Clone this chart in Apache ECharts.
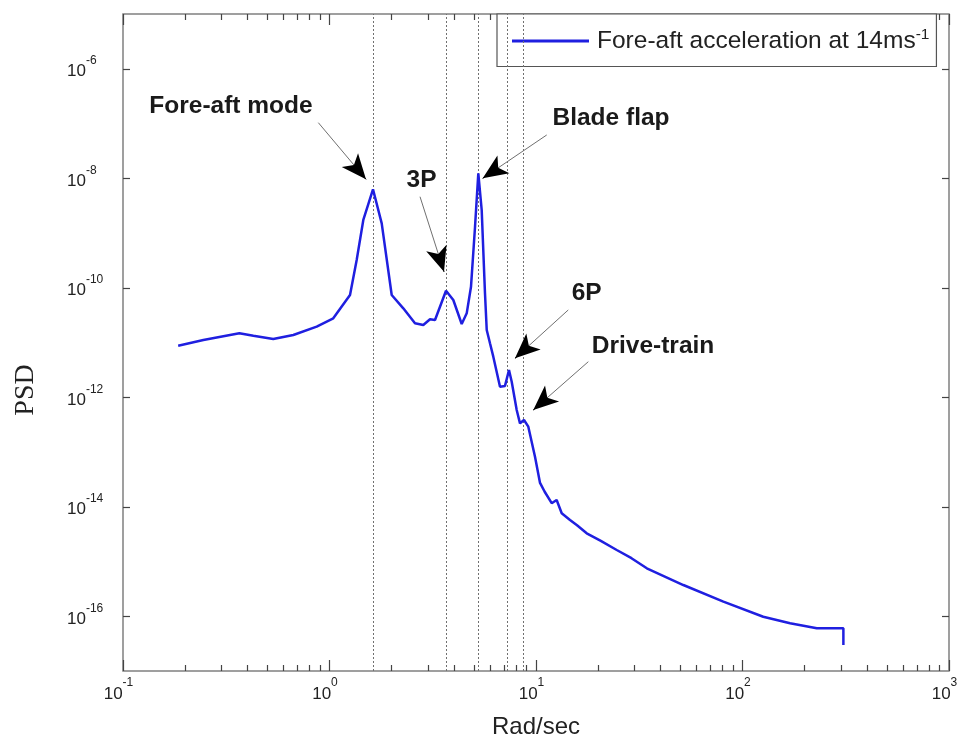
<!DOCTYPE html>
<html><head><meta charset="utf-8">
<script src="https://cdn.jsdelivr.net/npm/echarts@6/dist/echarts.min.js"></script>
<style>html,body{margin:0;padding:0;background:#fff}#c{width:970px;height:747px}</style>
</head><body><div id="c"></div>
<script>
// ---- data ----
const freq = [0.185, 0.245, 0.366, 0.428, 0.534, 0.668, 0.867, 1.043, 1.257, 1.354, 1.458, 1.624, 1.790, 2.001, 2.277, 2.594, 2.846, 3.067, 3.243, 3.666, 3.977, 4.367, 4.618, 4.844, 5.067, 5.256, 5.458, 5.662, 5.773, 5.987, 6.212, 6.694, 7.077, 7.40, 7.627, 8.063, 8.366, 8.747, 9.178, 9.89, 10.46, 11.0, 11.91, 12.59, 13.32, 14.61, 15.8, 17.60, 20.5, 24.6, 29.0, 34.4, 51.7, 80.8, 126, 170, 229, 308, 308];
const psd = [8.75e-12, 1.11e-11, 1.47e-11, 1.33e-11, 1.16e-11, 1.37e-11, 1.95e-11, 2.77e-11, 7.38e-11, 3.21e-10, 1.73e-9, 6.28e-9, 1.50e-9, 7.38e-11, 4.21e-11, 2.24e-11, 2.09e-11, 2.65e-11, 2.58e-11, 8.83e-11, 5.97e-11, 2.18e-11, 3.41e-11, 1.04e-10, 1.30e-9, 1.23e-8, 2.63e-9, 7.92e-11, 1.69e-11, 9.66e-12, 5.51e-12, 1.56e-12, 1.61e-12, 3.15e-12, 1.92e-12, 5.85e-13, 3.34e-13, 3.84e-13, 2.90e-13, 8.2e-14, 2.72e-14, 1.9e-14, 1.16e-14, 1.33e-14, 7.59e-15, 5.73e-15, 4.6e-15, 3.27e-15, 2.4e-15, 1.62e-15, 1.15e-15, 7.52e-16, 3.72e-16, 1.85e-16, 9.8e-17, 7.43e-17, 6.03e-17, 6.03e-17, 2.99e-17];
const seriesName = 'Fore-aft acceleration at 14ms-1';
const modeFreqs = [1.62, 3.66, 5.24, 7.24, 8.65];
const annotationLabels = ['Fore-aft mode', '3P', 'Blade flap', '6P', 'Drive-train'];
const labelAnchors = [[0.3334, 2.09e-7], [2.79, 9.29e-9], [23.08, 1.26e-7], [17.6, 8.02e-11], [36.87, 8.45e-12]];
const arrowTails = [[0.883, 1.035e-7], [2.744, 4.60e-9], [11.27, 6.17e-8], [14.33, 3.93e-11], [17.92, 4.46e-12]];
const arrowTips = [[1.502, 9.57e-9], [3.585, 1.96e-10], [5.52, 9.97e-9], [7.91, 5.14e-12], [9.70, 5.85e-13]];
const xMajorTicks = [0.1, 1, 10, 100, 1000];
const xMinorTicks = [0.2,0.3,0.4,0.5,0.6,0.7,0.8,0.9, 2,3,4,5,6,7,8,9, 20,30,40,50,60,70,80,90, 200,300,400,500,600,700,800,900];
const yTicks = [1e-16, 1e-14, 1e-12, 1e-10, 1e-8, 1e-6];

// ---- chart ----
const FONT = 'Liberation Sans, Arial, sans-serif';
const TXT = '#222';
const supFmt = v => '{b|10}{s|' + Math.round(Math.log10(v)) + '}';
const yRich = {
  b: {fontSize: 17, lineHeight: 34, fontFamily: FONT, color: TXT},
  s: {fontSize: 12, lineHeight: 14, verticalAlign: 'top', fontFamily: FONT, color: TXT}
};
const xRich = {
  b: {fontSize: 17, lineHeight: 34, fontFamily: FONT, color: TXT},
  s: {fontSize: 12, lineHeight: 14, verticalAlign: 'top', fontFamily: FONT, color: TXT, padding: [0, 9, 0, 0]}
};
const tickLine = {color: '#444', width: 1.2};
const baseX = {type: 'log', logBase: 10, min: 0.1, max: 1000, splitLine: {show: false}, axisLine: {show: false}, minorTick: {show: false}};
const baseY = {type: 'log', logBase: 10, min: 1e-17, max: 1e-5, splitLine: {show: false}, axisLine: {show: false}, minorTick: {show: false}};

const data = freq.map((f, i) => [f, psd[i]]);
const lerpLog = (a, b, t) => [Math.pow(10, Math.log10(a[0]) + (Math.log10(b[0]) - Math.log10(a[0])) * t),
                               Math.pow(10, Math.log10(a[1]) + (Math.log10(b[1]) - Math.log10(a[1])) * t)];

const chart = echarts.init(document.getElementById('c'));
chart.setOption({
  animation: false,
  backgroundColor: '#fff',
  grid: {left: 123, right: 21, top: 14, bottom: 76, show: true, borderColor: '#808080', borderWidth: 1.5, containLabel: false},
  legend: {
    data: [seriesName], left: 497, top: 14, padding: [13, 7, 13, 15],
    icon: 'rect', itemWidth: 77, itemHeight: 3, borderColor: '#555', borderWidth: 1.2, backgroundColor: '#fff',
    formatter: () => '{n|Fore-aft acceleration at 14ms}{s|-1}',
    textStyle: {fontFamily: FONT, color: TXT, padding: [0, 0, 0, 3], rich: {
      n: {fontSize: 24.5, lineHeight: 28, fontFamily: FONT, color: TXT},
      s: {fontSize: 15.5, lineHeight: 14, verticalAlign: 'top', fontFamily: FONT, color: TXT}
    }}
  },
  xAxis: [
    Object.assign({}, baseX, {position: 'bottom',
      axisTick: {inside: true, length: 11, customValues: xMajorTicks, lineStyle: tickLine},
      axisLabel: {customValues: xMajorTicks, formatter: supFmt, rich: xRich, margin: 6},
      name: 'Rad/sec', nameLocation: 'middle', nameGap: 44,
      nameTextStyle: {fontSize: 24, color: TXT, fontFamily: FONT}}),
    Object.assign({}, baseX, {position: 'bottom',
      axisTick: {inside: true, length: 6, customValues: xMinorTicks, lineStyle: tickLine}, axisLabel: {show: false}}),
    Object.assign({}, baseX, {position: 'top',
      axisTick: {inside: true, length: 11, customValues: xMajorTicks, lineStyle: tickLine}, axisLabel: {show: false}}),
    Object.assign({}, baseX, {position: 'top',
      axisTick: {inside: true, length: 6, customValues: xMinorTicks, lineStyle: tickLine}, axisLabel: {show: false}})
  ],
  yAxis: [
    Object.assign({}, baseY, {position: 'left',
      axisTick: {inside: true, length: 7, customValues: yTicks, lineStyle: tickLine},
      axisLabel: {customValues: yTicks, formatter: supFmt, rich: yRich, align: 'left', margin: 56, padding: [6, 0, 0, 0]},
      name: 'PSD', nameLocation: 'middle', nameGap: 83,
      nameTextStyle: {fontFamily: 'Liberation Serif, Times New Roman, serif', fontSize: 28, color: TXT, padding: [0, 95, 0, 0]}}),
    Object.assign({}, baseY, {position: 'right',
      axisTick: {inside: true, length: 7, customValues: yTicks, lineStyle: tickLine}, axisLabel: {show: false}})
  ],
  series: [
    {
      type: 'line', name: seriesName, data: data, showSymbol: false, symbol: 'none', z: 5,
      lineStyle: {color: '#1f1fe0', width: 2.5}, itemStyle: {color: '#1f1fe0'},
      markLine: {silent: true, symbol: 'none', label: {show: false},
        lineStyle: {type: [2, 2], color: '#707070', width: 1},
        data: modeFreqs.map(v => ({xAxis: v}))}
    },
    {
      type: 'line', name: 'arrows', data: [], z: 6, silent: true,
      markLine: {silent: true, symbol: 'none', label: {show: false},
        lineStyle: {type: 'solid', color: '#707070', width: 1},
        data: arrowTails.map((t, i) => [{coord: t}, {coord: arrowTips[i]}])},
      markPoint: {silent: true, symbol: 'rect', symbolSize: 1, itemStyle: {color: 'rgba(0,0,0,0)'},
        label: {show: true, position: 'inside', formatter: '{b}', fontFamily: FONT, fontSize: 24.5, fontWeight: 'bold', color: '#1a1a1a'},
        data: annotationLabels.map((t, i) => ({name: t, coord: labelAnchors[i]}))}
    },
    {
      type: 'line', name: 'heads', data: [], z: 7, silent: true,
      markLine: {silent: true, symbol: ['none', 'arrow'], symbolSize: [16, 25], label: {show: false},
        lineStyle: {type: 'solid', color: '#000', width: 1},
        data: arrowTails.map((t, i) => [{coord: lerpLog(t, arrowTips[i], 0.85)}, {coord: arrowTips[i]}])}
    }
  ]
});
</script></body></html>
